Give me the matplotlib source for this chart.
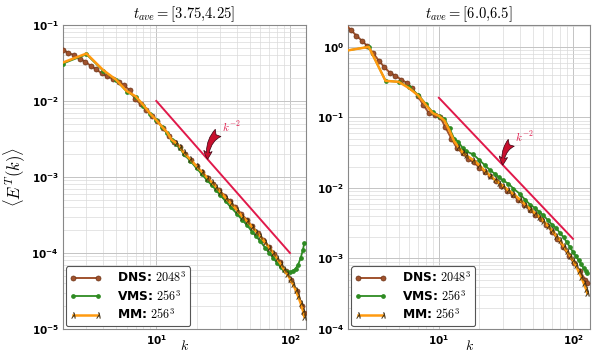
import matplotlib
matplotlib.use("Agg")
import matplotlib.pyplot as plt
from matplotlib.font_manager import FontProperties
from matplotlib.lines import Line2D
from matplotlib.ticker import FuncFormatter, NullFormatter
import numpy as np

plt.rcParams['mathtext.fontset'] = 'dejavusans'
plt.rcParams['font.family'] = 'DejaVu Sans'

# ---------------- data ----------------
k_dns = [2.0, 2.2, 2.42, 2.67, 2.93, 3.23, 3.56, 3.91, 4.31, 4.74, 5.22, 5.74, 6.32, 6.96,
         7.66, 8.43, 9.28, 10.2, 11.2, 12.4, 13.6, 15.0, 16.5, 18.2, 20.0, 22.0, 24.2, 26.7,
         29.3, 32.3, 35.6, 39.1, 43.1, 47.4, 52.2, 57.4, 63.2, 69.6, 76.6, 84.3, 92.8, 102,
         112, 124, 128]

dns_left = [0.047, 0.043, 0.040, 0.036, 0.033, 0.029, 0.026, 0.023, 0.021, 0.0195, 0.0178,
            0.016, 0.0138, 0.0105, 0.0090, 0.0075, 0.0064, 0.0055, 0.0044, 0.0035, 0.0029,
            0.00245, 0.0020, 0.00165, 0.00138, 0.00115, 0.00096, 0.00082, 0.00068, 0.00057,
            0.00048, 0.00040, 0.00033, 0.000275, 0.000225, 0.000185, 0.00015, 0.00012,
            9.6e-5, 7.5e-5, 5.8e-5, 4.4e-5, 3.2e-5, 2.0e-5, 1.6e-5]

dns_right = [2.1, 1.75, 1.45, 1.22, 1.03, 0.82, 0.64, 0.52, 0.43, 0.39, 0.345, 0.31, 0.26,
             0.20, 0.15, 0.115, 0.108, 0.102, 0.072, 0.05, 0.037, 0.031, 0.026, 0.023,
             0.0195, 0.0168, 0.0148, 0.0125, 0.0107, 0.0092, 0.0079, 0.0068, 0.0058, 0.0049,
             0.0042, 0.0036, 0.0030, 0.0024, 0.0019, 0.00145, 0.00110, 0.00085, 0.00066,
             0.00050, 0.00045]

k_les = [2, 3, 4, 5, 6, 7, 8, 9, 10, 11, 12, 13, 14, 15, 16, 18, 20, 22, 24, 26, 28, 30, 33,
         36, 40, 44, 48, 52, 56, 60, 65, 70, 75, 80, 85, 90, 95, 100, 105, 110, 115, 120,
         125, 128]

mm_left = [0.032, 0.042, 0.0255, 0.019, 0.0135, 0.0115, 0.0088, 0.0068, 0.0056, 0.0046,
           0.0039, 0.0031, 0.0028, 0.0025, 0.0021, 0.0017, 0.00138, 0.00116, 0.00098,
           0.00085, 0.00074, 0.00064, 0.00053, 0.00045, 0.00037, 0.00030, 0.00026, 0.00022,
           0.00019, 0.000165, 0.000138, 0.000118, 0.0001, 8.5e-5, 7.2e-5, 6.1e-5, 5.3e-5,
           4.6e-5, 3.9e-5, 3.3e-5, 2.7e-5, 2.2e-5, 1.75e-5, 1.45e-5]

vms_left = [0.031, 0.041, 0.025, 0.0188, 0.0133, 0.0113, 0.0087, 0.0068, 0.0056, 0.0046,
            0.0038, 0.0031, 0.0027, 0.0024, 0.0020, 0.00162, 0.0013, 0.00108, 0.0009,
            0.00078, 0.00067, 0.00058, 0.00048, 0.0004, 0.00033, 0.00027, 0.00023, 0.00019,
            0.000165, 0.000142, 0.000118, 0.0001, 8.6e-5, 7.4e-5, 6.5e-5, 5.9e-5, 5.6e-5,
            5.6e-5, 5.8e-5, 6.2e-5, 7.0e-5, 8.5e-5, 1.1e-4, 1.35e-4]

mm_right = [0.88, 1.0, 0.33, 0.32, 0.26, 0.205, 0.15, 0.115, 0.105, 0.09, 0.065, 0.046,
            0.038, 0.032, 0.029, 0.025, 0.021, 0.0175, 0.015, 0.0132, 0.0118, 0.0107,
            0.0093, 0.0082, 0.0069, 0.0058, 0.005, 0.0044, 0.0039, 0.0034, 0.0029, 0.0025,
            0.0021, 0.0018, 0.0015, 0.00128, 0.00110, 0.00095, 0.0008, 0.00066, 0.00055,
            0.00045, 0.00037, 0.00032]

vms_right = [0.88, 1.0, 0.33, 0.32, 0.27, 0.21, 0.155, 0.118, 0.105, 0.095, 0.07, 0.05,
             0.045, 0.037, 0.033, 0.030, 0.025, 0.021, 0.018, 0.016, 0.0142, 0.0128, 0.0115,
             0.0098, 0.0083, 0.0068, 0.0058, 0.0052, 0.0046, 0.0041, 0.0035, 0.003, 0.0027,
             0.0023, 0.002, 0.0017, 0.00145, 0.00124, 0.00108, 0.00095, 0.00083, 0.00073,
             0.00066, 0.00062]

k_ref = [10, 100]
ref_coef = [1.0, 19.0]

titles = [r"$t_{ave}=[3.75{,}4.25]$", r"$t_{ave}=[6.0{,}6.5]$"]
labels = [r"DNS: $2048^3$", r"VMS: $256^3$", r"MM: $256^3$"]

# ---------------- figure ----------------
fig = plt.figure(figsize=(5.99, 3.54), dpi=100)
ax1 = fig.add_axes([0.105, 0.0706, 0.406, 0.859])
ax2 = fig.add_axes([0.581, 0.0706, 0.404, 0.859])

c_dns = '#a0522d'
c_vms = '#2e8b22'
c_mm = '#ff9a10'
c_ref = '#e0194a'
c_lam = '#3a2a10'

panels = [
    (ax1, dns_left, vms_left, mm_left, ref_coef[0], (2.0, 132), (1e-5, 1e-1),
     (24.2, 31.0, 4.6e-3)),
    (ax2, dns_right, vms_right, mm_right, ref_coef[1], (2.1, 134), (1e-4, 2.05),
     (30.0, 37.0, 5.4e-2)),
]


def sci_bold(v, pos):
    e = int(round(np.log10(v)))
    return r"$\mathbf{10^{%d}}$" % e


mm_marks = [i for i, kk in enumerate(k_les) if kk >= 14]

for i, (ax, dns, vms, mm, C, xl, yl, ann) in enumerate(panels):
    ax.set_xscale('log')
    ax.set_yscale('log')
    ax.grid(True, which='major', color='#c4c4c4', lw=0.7)
    ax.grid(True, which='minor', color='#dadada', lw=0.5)
    ax.set_axisbelow(True)
    ax.plot(k_dns, dns, '-o', color=c_dns, lw=1.4, ms=3.6, mfc=c_dns,
            mec='#6b3417', mew=0.5, zorder=3)
    ax.plot(k_les, vms, '-o', color=c_vms, lw=1.3, ms=2.4, mfc=c_vms,
            mec=c_vms, zorder=4)
    ax.plot(k_les, mm, '-', color=c_mm, lw=1.8, marker=r'$\lambda$', ms=4.2,
            mfc=c_lam, mec=c_lam, mew=0.2, markevery=mm_marks, zorder=5)
    ax.plot(k_ref, [C / kk**2 for kk in k_ref], '-', color=c_ref, lw=1.4, zorder=6)
    kt, kx, ky = ann
    ax.annotate(r"$k^{-2}$", xy=(kt, C / kt**2), xytext=(kx, ky), color=c_ref,
                fontsize=8, math_fontfamily='cm', va='center', ha='left',
                arrowprops=dict(arrowstyle='fancy,head_length=0.5,head_width=0.5,tail_width=0.55',
                                fc='#c8102e', ec='#3a0010', lw=0.5,
                                connectionstyle='arc3,rad=0.4', shrinkA=1, shrinkB=0,
                                mutation_scale=12),
                zorder=7)
    ax.set_xlim(*xl)
    ax.set_ylim(*yl)
    ax.xaxis.set_major_formatter(FuncFormatter(sci_bold))
    ax.yaxis.set_major_formatter(FuncFormatter(sci_bold))
    ax.xaxis.set_minor_formatter(NullFormatter())
    ax.yaxis.set_minor_formatter(NullFormatter())
    ax.set_title(titles[i], fontsize=10.5, math_fontfamily='cm', pad=5)
    ax.set_xlabel(r"$k$", fontsize=10, math_fontfamily='cm')
    ax.xaxis.set_label_coords(0.5, -0.034)
    for sp in ax.spines.values():
        sp.set_color('#888888')
        sp.set_linewidth(0.8)
    ax.tick_params(which='both', direction='in', length=0, labelsize=7.5, pad=3)
    handles = [
        Line2D([], [], color=c_dns, lw=1.4, marker='o', ms=3.6, mfc=c_dns, mec='#6b3417',
               mew=0.5),
        Line2D([], [], color=c_vms, lw=1.3, marker='o', ms=2.4, mfc=c_vms, mec=c_vms),
        Line2D([], [], color=c_mm, lw=1.8, marker=r'$\lambda$', ms=4.2, mfc=c_lam,
               mec=c_lam, mew=0.2),
    ]
    leg = ax.legend(handles, labels, loc='lower left',
                    prop=FontProperties(weight='bold', size=8.8, math_fontfamily='cm'),
                    handlelength=2.6, borderaxespad=0.25, labelspacing=0.3,
                    fancybox=True, framealpha=1.0, edgecolor='#555555',
                    borderpad=0.3, handletextpad=1.3, numpoints=2)
    leg.get_frame().set_linewidth(0.8)
    leg.set_zorder(10)

ax1.set_ylabel(r"$\langle E^T(k)\rangle$", fontsize=12, math_fontfamily='cm', labelpad=3)

fig.savefig("out.png", dpi=100)
